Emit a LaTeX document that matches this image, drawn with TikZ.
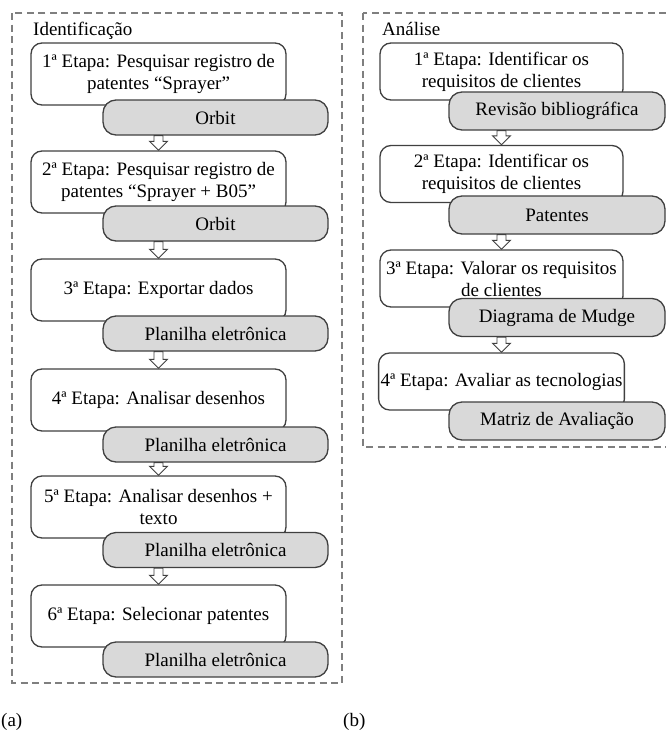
\documentclass[tikz,border=0pt]{standalone}
\usepackage{fontspec}
\setmainfont{Liberation Serif}
\usetikzlibrary{calc}
\definecolor{boxline}{HTML}{404040}
\definecolor{toolgray}{HTML}{D9D9D9}
\definecolor{groupline}{HTML}{7F7F7F}
\tikzset{
  stepbox/.style={draw=boxline, line width=1.3pt, rounded corners=11pt, fill=white,
    minimum width=#1, minimum height=62pt, align=center, inner sep=2pt},
  stepbox/.default=255pt,
  toolbox/.style={draw=boxline, line width=1.3pt, rounded corners=13pt, fill=toolgray,
    minimum width=#1, minimum height=35pt, inner sep=2pt},
  toolbox/.default=225pt,
  hollowarrow/.style={draw=boxline, line width=0.9pt, fill=white, line join=miter},
  groupframe/.style={draw=groupline, line width=1.2pt, dash pattern=on 7pt off 4.5pt},
}
% hollow block arrow, from #1 (top) down to #2 (tip)
\newcommand{\steparrow}[2]{%
  \draw[hollowarrow] let \p1=(#1), \p2=(#2) in
    (\x2-4.5pt,\y1) -- (\x2-4.5pt,\y2+9pt) -- (\x2-9pt,\y2+9pt) -- (\x2,\y2)
    -- (\x2+9pt,\y2+9pt) -- (\x2+4.5pt,\y2+9pt) -- (\x2+4.5pt,\y1) -- cycle;}

\begin{document}
\begin{tikzpicture}[x=1pt, y=-1pt, font=\fontsize{19}{22}\selectfont]
  \useasboundingbox (0,0) rectangle (666,731);
  % (a) Identificacao
  \draw[groupframe] (12,13) rectangle (342,683);
  \node[anchor=base west, inner sep=0pt] (idtitle) at (33,35) {Identificação};
  \node[stepbox] (w1) at (158.5,74) {1ª Etapa: Pesquisar registro de\\patentes “Sprayer”};
  \node[toolbox] (g1) at (215.5,117.5) {Orbit};
  \node[stepbox] (w2) at (158.5,182) {2ª Etapa: Pesquisar registro de\\patentes “Sprayer + B05”};
  \node[toolbox] (g2) at (215.5,223.5) {Orbit};
  \node[stepbox] (w3) at (158.5,290) {3ª Etapa: Exportar dados};
  \node[toolbox] (g3) at (215.5,333.5) {Planilha eletrônica};
  \node[stepbox] (w4) at (158.5,400) {4ª Etapa: Analisar desenhos};
  \node[toolbox] (g4) at (215.5,444.5) {Planilha eletrônica};
  \node[stepbox] (w5) at (158.5,507) {5ª Etapa: Analisar desenhos +\\texto};
  \node[toolbox] (g5) at (215.5,550) {Planilha eletrônica};
  \node[stepbox] (w6) at (158.5,616) {6ª Etapa: Selecionar patentes};
  \node[toolbox] (g6) at (215.5,659.5) {Planilha eletrônica};
  \steparrow{w1 |- g1.south}{w2.north}
  \steparrow{w2 |- g2.south}{w3.north}
  \steparrow{w3 |- g3.south}{w4.north}
  \steparrow{w4 |- g4.south}{w5.north}
  \steparrow{w5 |- g5.south}{w6.north}
  % (b) Analise
  \draw[groupframe] (363,13) rectangle (690,447);
  \node[anchor=base west, inner sep=0pt] (antitle) at (382,35) {Análise};
  \node[stepbox=243pt, minimum height=57pt] (rw1) at (501.5,71.5) {1ª Etapa: Identificar os\\requisitos de clientes};
  \node[toolbox=216pt, minimum height=38pt] (rg1) at (557,111) {Revisão bibliográfica};
  \node[stepbox=243pt, minimum height=57pt] (rw2) at (501.5,174) {2ª Etapa: Identificar os\\requisitos de clientes};
  \node[toolbox=216pt, minimum height=38pt] (rg2) at (557,215) {Patentes};
  \node[stepbox=243pt, minimum height=57pt] (rw3) at (501.5,278.5) {3ª Etapa: Valorar os requisitos\\de clientes};
  \node[toolbox=216pt, minimum height=38pt] (rg3) at (557,317.5) {Diagrama de Mudge};
  \node[stepbox=243pt, minimum height=57pt] (rw4) at (501.5,381.5) {4ª Etapa: Avaliar as tecnologias};
  \node[toolbox=216pt, minimum height=38pt] (rg4) at (557,421) {Matriz de Avaliação};
  \steparrow{rw1 |- rg1.south}{rw2.north}
  \steparrow{rw2 |- rg2.south}{rw3.north}
  \steparrow{rw3 |- rg3.south}{rw4.north}
  % captions
  \node[anchor=base west, inner sep=0pt] (capa) at (1,726) {(a)};
  \node[anchor=base west, inner sep=0pt] (capb) at (343,726) {(b)};
\end{tikzpicture}
\end{document}
